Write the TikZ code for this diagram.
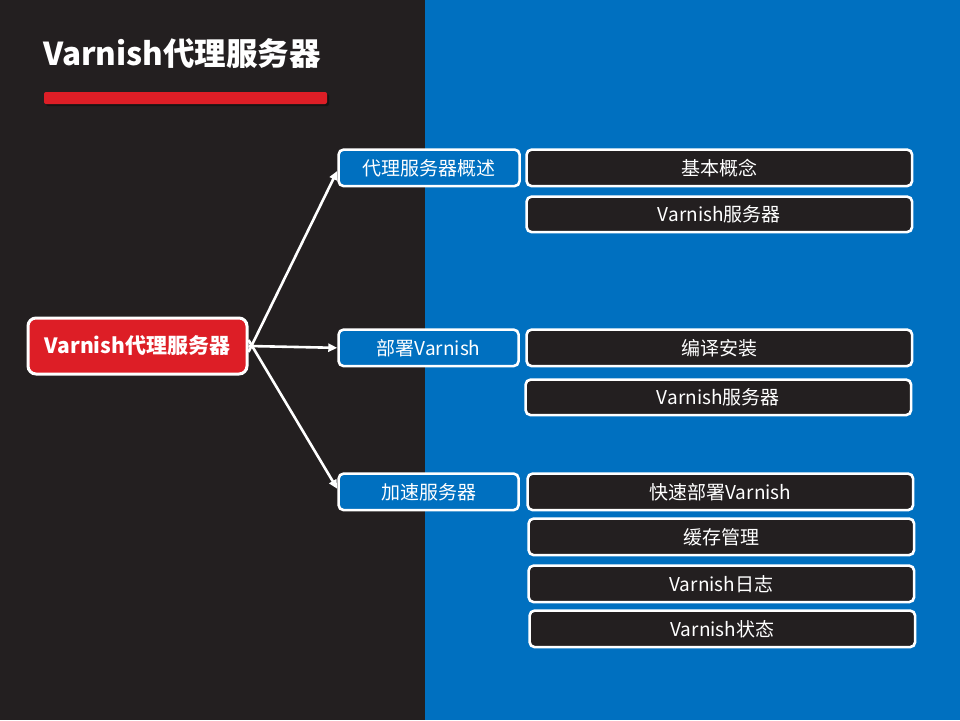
\documentclass[tikz,border=0pt]{standalone}
\usepackage{fontspec}
\setmainfont{Noto Sans CJK SC}
\usetikzlibrary{arrows.meta}
\definecolor{darkbg}{HTML}{231F20}
\definecolor{bluebg}{HTML}{0070C0}
\definecolor{redc}{HTML}{DD1E26}
\tikzset{
  box/.style={draw=white, line width=2.6pt, rounded corners=5pt, text=white, inner sep=0pt, anchor=north west},
  rootbox/.style={box, fill=redc, line width=3pt, rounded corners=8pt, font=\fontsize{21}{24}\selectfont\bfseries},
  lvlone/.style={box, fill=bluebg, font=\fontsize{19}{22}\selectfont},
  lvltwo/.style={box, fill=darkbg, font=\fontsize{19}{22}\selectfont},
  conn/.style={draw=white, line width=2.6pt, -{Triangle[length=9pt,width=8pt]}}
}
\begin{document}
\begin{tikzpicture}[x=1pt,y=-1pt]
\useasboundingbox (0,0) rectangle (960,720);
\fill[darkbg] (0,0) rectangle (425,720);
\fill[bluebg] (425,0) rectangle (960,720);
\node[anchor=west, text=white, font=\fontsize{31.5}{36}\selectfont\bfseries, inner sep=0pt] (title) at (43,54) {Varnish代理服务器};
\fill[black, opacity=0.35, rounded corners=2pt] (46,94) rectangle (329,106);
\fill[redc, rounded corners=2pt] (44,92) rectangle (327,104);
\node[rootbox, minimum width=219pt, minimum height=56pt] (root) at (26.5,316.5) {Varnish代理服务器};
\node[lvlone, minimum width=181pt, minimum height=36.5pt] (a) at (337.3,148.3) {代理服务器概述};
\node[lvlone, minimum width=180pt, minimum height=36.5pt] (b) at (337.3,328.3) {部署Varnish};
\node[lvlone, minimum width=180pt, minimum height=36.5pt] (c) at (337.3,472.3) {加速服务器};
\node[lvltwo, minimum width=385.5pt, minimum height=36.5pt] (a1) at (525.3,148.3) {基本概念};
\node[lvltwo, minimum width=385.5pt, minimum height=35.5pt] (a2) at (525.3,195.3) {Varnish服务器};
\node[lvltwo, minimum width=385.5pt, minimum height=36.5pt] (b1) at (525.3,328.3) {编译安装};
\node[lvltwo, minimum width=385.5pt, minimum height=35.5pt] (b2) at (524.3,378.3) {Varnish服务器};
\node[lvltwo, minimum width=385.5pt, minimum height=36.5pt] (c1) at (526.3,472.3) {快速部署Varnish};
\node[lvltwo, minimum width=385.5pt, minimum height=36.5pt] (c2) at (527.3,517.3) {缓存管理};
\node[lvltwo, minimum width=385.5pt, minimum height=36.5pt] (c3) at (527.3,564.3) {Varnish日志};
\node[lvltwo, minimum width=385.5pt, minimum height=36.5pt] (c4) at (528.3,609.3) {Varnish状态};
\draw[conn] ([yshift=-6pt]root.east) -- ([yshift=-3pt]a.west);
\draw[conn] (root.east) -- (b.west);
\draw[conn] ([yshift=6pt]root.east) -- ([yshift=3pt]c.west);
\end{tikzpicture}
\end{document}
